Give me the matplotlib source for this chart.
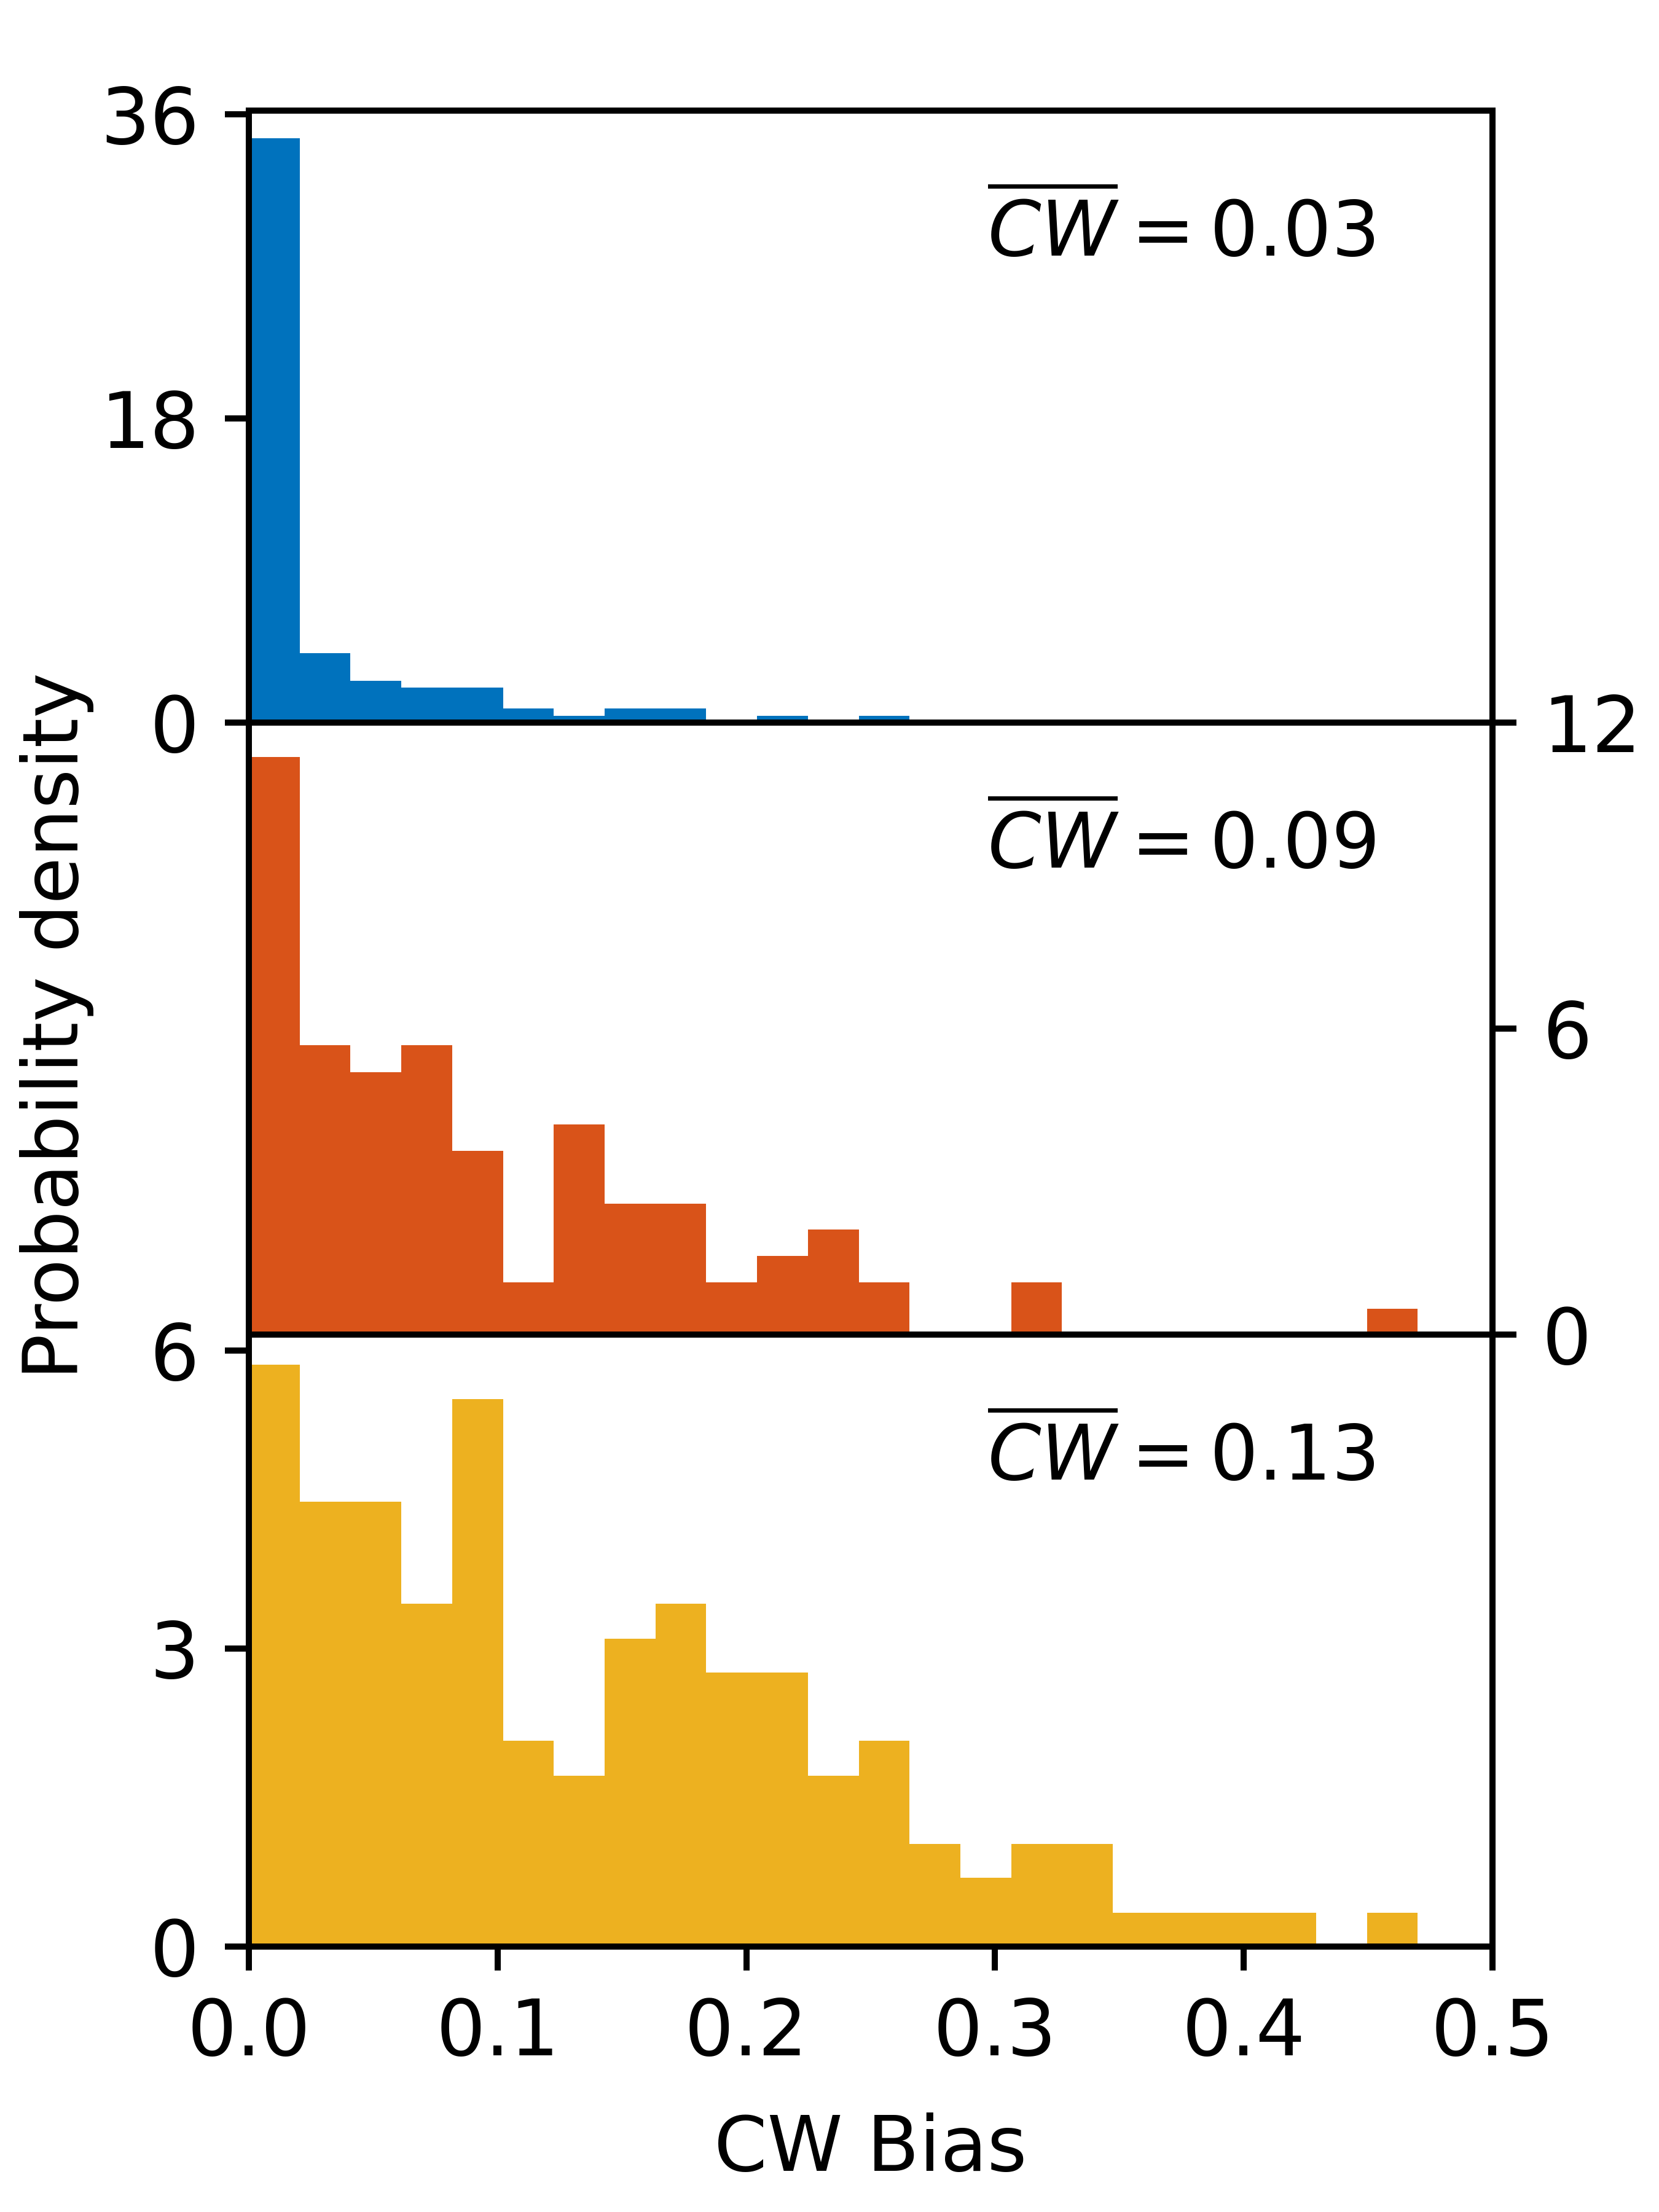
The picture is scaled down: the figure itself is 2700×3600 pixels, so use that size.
import numpy as np
import matplotlib
matplotlib.use("Agg")
import matplotlib.pyplot as plt

# histogram bins (same for all three panels)
bin_lo = 0.0
bin_hi = 0.47
n_bins = 23

# bar heights (probability density)
dens_top = [34.55, 4.11, 2.47, 2.06, 2.06, 0.82, 0.41, 0.82, 0.82, 0.0, 0.41, 0.0,
            0.41, 0.0, 0.0, 0.0, 0.0, 0.0, 0.0, 0.0, 0.0, 0.0, 0.0]
dens_mid = [11.33, 5.67, 5.15, 5.67, 3.60, 1.03, 4.12, 2.57, 2.57, 1.03, 1.54, 2.06,
            1.03, 0.0, 0.0, 1.03, 0.0, 0.0, 0.0, 0.0, 0.0, 0.0, 0.51]
dens_bot = [5.86, 4.48, 4.48, 3.45, 5.51, 2.07, 1.72, 3.10, 3.45, 2.76, 2.76, 1.72,
            2.07, 1.03, 0.69, 1.03, 1.03, 0.34, 0.34, 0.34, 0.34, 0.0, 0.34]

means = ["0.03", "0.09", "0.13"]
colors = ["#0072BD", "#D95319", "#EDB120"]
ylims = [36.2, 12, 6.16]
yticks = [[0, 18, 36], [0, 6, 12], [0, 3, 6]]
xticks = [0.0, 0.1, 0.2, 0.3, 0.4, 0.5]

FS = 15.2
FS_LAB = 14.9
LW = 1.2
plt.rcParams['font.family'] = ['DejaVu Sans']
plt.rcParams['font.size'] = FS
plt.rcParams['axes.linewidth'] = LW


def main():
    edges = np.linspace(bin_lo, bin_hi, n_bins + 1)
    width = edges[1] - edges[0]

    fig = plt.figure(figsize=(4.5, 6), dpi=600)
    gs = fig.add_gridspec(3, 1, left=0.15, right=0.8996, top=0.95, bottom=0.12, hspace=0)
    axes = [fig.add_subplot(gs[i]) for i in range(3)]

    for i, (ax, dens) in enumerate(zip(axes, [dens_top, dens_mid, dens_bot])):
        ax.bar(edges[:-1], dens, width=width, align='edge', color=colors[i],
               linewidth=0, zorder=1)
        ax.set_xlim(0, 0.5)
        ax.set_ylim(0, ylims[i])
        ax.set_yticks(yticks[i])
        ax.set_xticks(xticks)
        ax.tick_params(length=4.7, width=LW, pad=5, labelsize=FS)
        ax.text(0.297, 0.762, r"$\overline{CW} = %s$" % means[i], transform=ax.get_xaxis_transform(),
                fontsize=FS_LAB, ha='left', va='baseline')
        if i < 2:
            ax.tick_params(axis='x', bottom=False, labelbottom=False)

    # middle panel carries its scale on the right
    axes[1].yaxis.tick_right()
    axes[1].tick_params(axis='y', left=False, labelleft=False, right=True, labelright=True)

    axes[2].set_xticklabels(["%.1f" % t for t in xticks])
    axes[2].set_xlabel("CW Bias", fontsize=FS_LAB, labelpad=8)

    fig.text(93 / 2700, 1 - 1670 / 3600, "Probability density", rotation=90,
             ha='center', va='center', fontsize=FS_LAB)

    fig.savefig("out.png", dpi=600)


if __name__ == "__main__":
    main()
